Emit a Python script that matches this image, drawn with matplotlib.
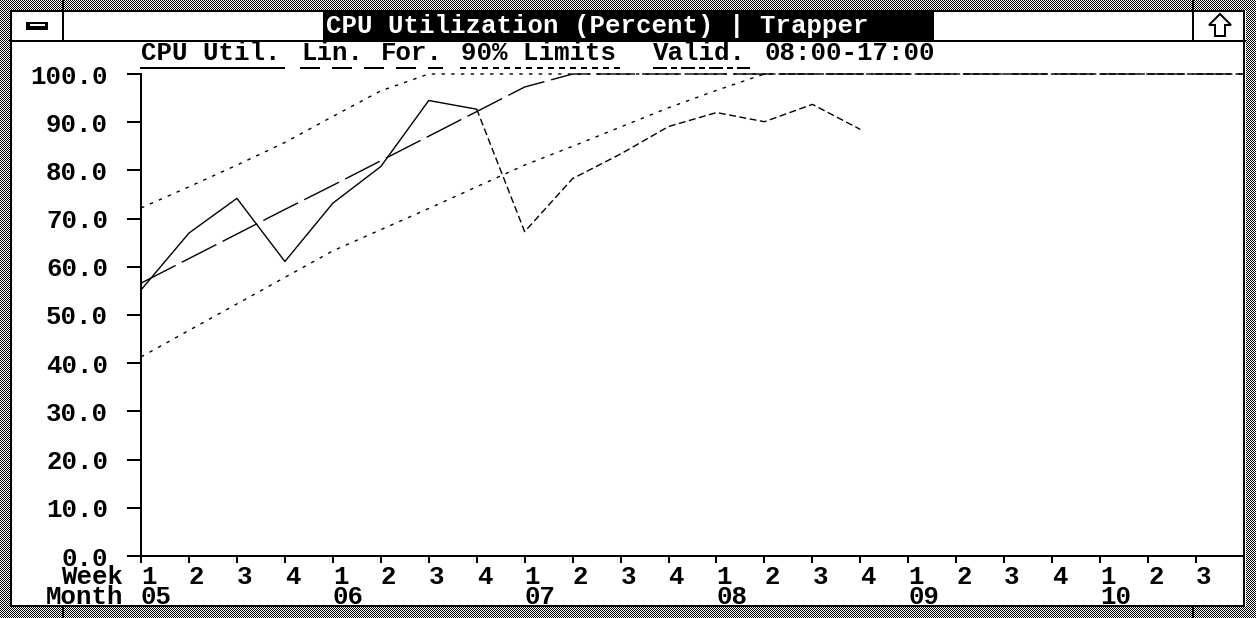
import numpy as np
import matplotlib
matplotlib.use('Agg')
import matplotlib.pyplot as plt
import matplotlib.transforms as mtransforms
from matplotlib.patches import Rectangle, Polygon
from matplotlib.lines import Line2D

W, H = 1256, 618

# --- data ---
week_labels = ['1', '2', '3', '4'] * 5 + ['1', '2', '3']
month_labels = ['05', '06', '07', '08', '09', '10']
month_starts = [0, 4, 8, 12, 16, 20]

# measured CPU util (solid) and the later part (dashed)
cpu_weeks = list(range(8))
cpu_util = [55.2, 67.0, 74.2, 61.1, 73.2, 80.8, 94.5, 92.7]
cpu_weeks_late = list(range(7, 16))
cpu_util_late = [92.7, 67.3, 78.3, 83.4, 89.1, 92.0, 90.1, 93.7, 88.5]

# linear forecast and 90% limits, capped at 100
fc_weeks = list(range(24))
lin_forecast = [56.6, 61.7, 66.8, 71.9, 76.9, 82.0, 87.1, 92.2, 97.3, 100.0,
                100.0, 100.0, 100.0, 100.0, 100.0, 100.0, 100.0, 100.0, 100.0,
                100.0, 100.0, 100.0, 100.0, 100.0]
upper_limit = [72.2, 76.6, 81.1, 85.8, 91.2, 96.5, 100.0, 100.0, 100.0, 100.0,
               100.0, 100.0, 100.0, 100.0, 100.0, 100.0, 100.0, 100.0, 100.0,
               100.0, 100.0, 100.0, 100.0, 100.0]
lower_limit = [41.3, 46.8, 52.3, 57.8, 63.3, 67.7, 72.1, 76.6, 81.1, 85.0,
               89.0, 93.0, 96.6, 100.0, 100.0, 100.0, 100.0, 100.0, 100.0,
               100.0, 100.0, 100.0, 100.0, 100.0]

y_ticks = [0, 10, 20, 30, 40, 50, 60, 70, 80, 90, 100]

title = "CPU Utilization (Percent) | Trapper"
legend_items = ["CPU Util.", "Lin.", "For.", "90% Limits", "Valid.", "08:00-17:00"]
legend_x = [141, 301, 381, 461, 653, 765]

FONT = dict(family='Liberation Mono', weight='bold', size=18.5)
PX = 0.72  # one screen pixel in points

fig = plt.figure(figsize=(W / 100, H / 100), dpi=100, facecolor='white')
# screen pixels, measured from the top left corner
px = mtransforms.Affine2D().scale(1 / W, -1 / H).translate(0, 1) + fig.transFigure

# checkered window frame (inside left transparent)
yy, xx = np.mgrid[0:H, 0:W]
frame = np.zeros((H, W, 4))
border = (xx < 10) | (xx >= 1246) | (yy < 10) | (yy >= 607)
checker = ((xx + yy) % 2).astype(float)
for c in range(3):
    frame[..., c] = checker
frame[..., 3] = border.astype(float)
fig.figimage(frame, origin='upper', zorder=-5)

for x in [62.5, 1192.5]:
    fig.add_artist(Line2D([x, x], [0, 10], color='black', lw=2 * PX, transform=px))
    fig.add_artist(Line2D([x, x], [607, 618], color='black', lw=2 * PX, transform=px))

# window outline, caption bar
fig.add_artist(Rectangle((11, 11), 1233, 595, fill=False, ec='black', lw=2 * PX, transform=px))
fig.add_artist(Line2D([10, 1245], [41, 41], color='black', lw=2 * PX, transform=px))
fig.add_artist(Line2D([62.5, 62.5], [10, 41], color='black', lw=2 * PX, transform=px))
fig.add_artist(Line2D([1192.5, 1192.5], [10, 41], color='black', lw=2 * PX, transform=px))
fig.add_artist(Rectangle((323, 12), 611, 28, fc='black', ec='none', transform=px))
fig.text(326, 33.5, title, color='white', ha='left', va='baseline', transform=px, **FONT)

# system menu box and maximize arrow
fig.add_artist(Rectangle((26, 22), 22, 8, fc='black', ec='none', transform=px))
fig.add_artist(Rectangle((30, 24), 15, 2, fc='white', ec='none', transform=px))
arrow = [(1220, 14), (1231, 25), (1225, 25), (1225, 36), (1215, 36), (1215, 25), (1209, 25)]
fig.add_artist(Polygon(arrow, closed=True, fc='white', ec='black', lw=2 * PX, transform=px))

# legend line with the line samples underneath
for s, x in zip(legend_items, legend_x):
    fig.text(x, 60, s, ha='left', va='baseline', transform=px, **FONT)
fig.add_artist(Line2D([141, 284], [68, 68], color='black', lw=2 * PX, transform=px))
fig.add_artist(Line2D([300, 443], [68, 68], color='black', lw=2 * PX, dashes=(10, 6), transform=px))
fig.add_artist(Line2D([460, 620], [68, 68], color='black', lw=2 * PX, dashes=(3, 2.5), transform=px))
fig.add_artist(Line2D([653, 750], [68, 68], color='black', lw=2 * PX, dashes=(7, 2, 3, 2), transform=px))

# plot area
ax = fig.add_axes([141 / W, 1 - 556 / H, (1244 - 141) / W, (556 - 74) / H])
ax.set_facecolor('none')
ax.set_xlim(0, 23)
ax.set_ylim(0, 100)
for side in ['top', 'right']:
    ax.spines[side].set_visible(False)
for side in ['left', 'bottom']:
    ax.spines[side].set_linewidth(2 * PX)

ax.set_yticks(y_ticks, labels=[f'{v:.1f}' for v in y_ticks])
ax.tick_params(axis='y', length=14 * PX, width=2 * PX, pad=19 * PX)
for lbl in ax.get_yticklabels():
    lbl.set_fontproperties(FONT)
    lbl.set_va('center_baseline')

ax.set_xticks(range(len(week_labels)), labels=week_labels)
ax.tick_params(axis='x', length=7 * PX, width=2 * PX, pad=21 * PX)
for lbl in ax.get_xticklabels():
    lbl.set_fontproperties(FONT)
    lbl.set_ha('left')
    lbl.set_va('baseline')

for m, i in zip(month_labels, month_starts):
    ax.annotate(m, xy=(i, 0), xycoords=('data', 'axes fraction'),
                xytext=(0, -48 * PX), textcoords='offset points',
                ha='left', va='baseline', annotation_clip=False, **FONT)
fig.text(123, 584, 'Week', ha='right', va='baseline', transform=px, **FONT)
fig.text(123, 604, 'Month', ha='right', va='baseline', transform=px, **FONT)

ax.plot(cpu_weeks, cpu_util, color='black', lw=1.0, clip_on=False)
ax.plot(cpu_weeks_late, cpu_util_late, color='black', lw=1.0, dashes=(5, 2.5), clip_on=False)
ax.plot(fc_weeks, lin_forecast, color='black', lw=1.0, dashes=(28, 5), clip_on=False)
ax.plot(fc_weeks, upper_limit, color='black', lw=1.0, dashes=(2.5, 4.5), clip_on=False)
ax.plot(fc_weeks, lower_limit, color='black', lw=1.0, dashes=(2.5, 4.5), clip_on=False)

fig.savefig('out.png', dpi=100, facecolor='white')
